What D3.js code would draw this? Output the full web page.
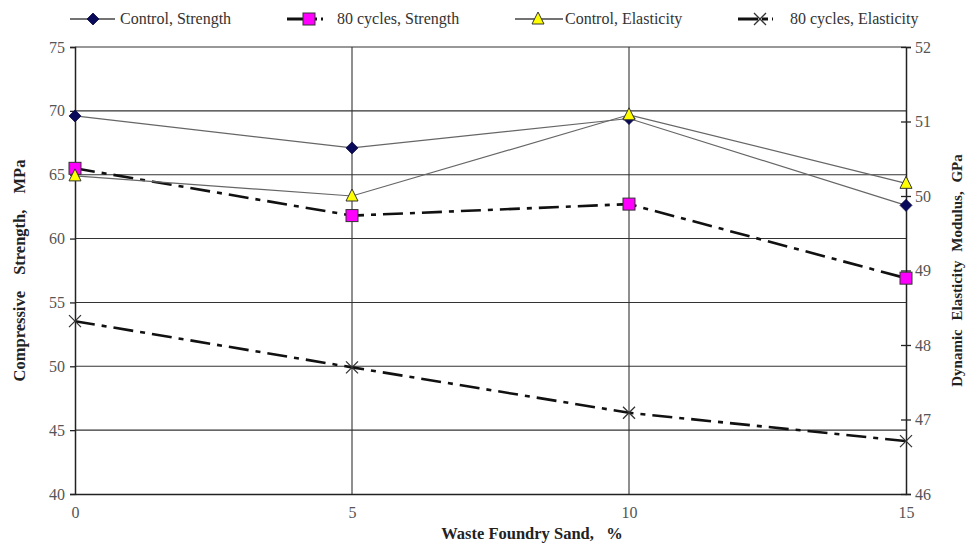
<!DOCTYPE html>
<html><head><meta charset="utf-8">
<script src="https://cdn.jsdelivr.net/npm/d3@7"></script>
<style>
body{margin:0;background:#fff;}
svg text{font-family:"Liberation Serif","Times New Roman",serif;}
</style></head>
<body><svg id="c" width="967" height="544"></svg>
<script>
const xValues = [0, 5, 10, 15];
const controlStrength = [69.6, 67.1, 69.4, 62.6];
const cyclesStrength = [65.5, 61.8, 62.7, 56.9];
const controlElasticity = [50.27, 50.0, 51.09, 50.17];
const cyclesElasticity = [48.32, 47.70, 47.09, 46.71];
const leftTicks = [40, 45, 50, 55, 60, 65, 70, 75];
const rightTicks = [46, 47, 48, 49, 50, 51, 52];
const xTicks = [0, 5, 10, 15];
const seriesNames = ["Control, Strength", "80 cycles, Strength", "Control, Elasticity", "80 cycles, Elasticity"];

const svg = d3.select("#c");
const L = 75, R = 906, T = 47, B = 494;
const x = d3.scaleLinear().domain([0, 15]).range([L, R]);
const yL = d3.scaleLinear().domain([40, 75]).range([B, T]);
const yR = d3.scaleLinear().domain([46, 52]).range([B, T]);

svg.append("g").selectAll("line").data(leftTicks.filter(d => d > 40)).join("line")
  .attr("x1", L).attr("x2", R).attr("y1", d => yL(d)).attr("y2", d => yL(d))
  .attr("stroke", "#333").attr("stroke-width", 1.1);
svg.append("g").selectAll("line").data(xTicks.filter(d => d > 0 && d < 15)).join("line")
  .attr("x1", d => x(d)).attr("x2", d => x(d)).attr("y1", T).attr("y2", B)
  .attr("stroke", "#333").attr("stroke-width", 1.1);

const axL = svg.append("g").attr("transform", `translate(${L},0)`)
  .call(d3.axisLeft(yL).tickValues(leftTicks).tickFormat(d3.format("d")).tickSize(5).tickPadding(5));
const axR = svg.append("g").attr("transform", `translate(${R},0)`)
  .call(d3.axisRight(yR).tickValues(rightTicks).tickFormat(d3.format("d")).tickSize(5).tickPadding(4));
const axB = svg.append("g").attr("transform", `translate(0,${B})`)
  .call(d3.axisBottom(x).tickValues(xTicks).tickFormat(d3.format("d")).tickSize(0).tickPadding(13));
[axL, axR, axB].forEach(a => {
  a.attr("font-family", null);
  a.select(".domain").attr("stroke", "#222").attr("stroke-width", 1.5);
  a.selectAll(".tick line").attr("stroke", "#222").attr("stroke-width", 1.3);
  a.selectAll("text").attr("font-size", 16).attr("fill", "#555");
});
axR.selectAll(".tick line").attr("x1", -5).attr("x2", 5);
axL.selectAll(".tick line").attr("x1", -5).attr("x2", 0);

svg.append("text").attr("transform", `translate(25,${(T+B)/2}) rotate(-90)`)
  .attr("text-anchor", "middle").attr("font-weight", "bold").attr("font-size", 16.5).attr("fill", "#222")
  .attr("word-spacing", 12).text("Compressive Strength, MPa");
svg.append("text").attr("transform", `translate(962,${(T+B)/2}) rotate(-90)`)
  .attr("text-anchor", "middle").attr("font-weight", "bold").attr("font-size", 15).attr("fill", "#222")
  .attr("word-spacing", 5).text("Dynamic Elasticity Modulus, GPa");
svg.append("text").attr("x", 532).attr("y", 539)
  .attr("text-anchor", "middle").attr("font-weight", "bold").attr("font-size", 16.5).attr("fill", "#222")
  .attr("xml:space", "preserve").text("Waste Foundry Sand,   %");

const dashDot = "20,7,5,7";
const series = [
  {name: seriesNames[0], vals: controlStrength, y: yL, stroke: "#666", sw: 1.2, dash: null, marker: "diamond"},
  {name: seriesNames[1], vals: cyclesStrength, y: yL, stroke: "#111", sw: 2.6, dash: dashDot, marker: "square"},
  {name: seriesNames[2], vals: controlElasticity, y: yR, stroke: "#666", sw: 1.2, dash: null, marker: "triangle"},
  {name: seriesNames[3], vals: cyclesElasticity, y: yR, stroke: "#111", sw: 2.6, dash: dashDot, marker: "x"}
];

function drawMarker(g, type, cx, cy) {
  if (type === "diamond") {
    g.append("path").attr("d", `M${cx},${cy-6}L${cx+6},${cy}L${cx},${cy+6}L${cx-6},${cy}Z`)
      .attr("fill", "#0a0a5a").attr("stroke", "#0a0a40").attr("stroke-width", 0.8);
  } else if (type === "square") {
    g.append("rect").attr("x", cx-6).attr("y", cy-6).attr("width", 12).attr("height", 12)
      .attr("fill", "#ff00ff").attr("stroke", "#333").attr("stroke-width", 1);
  } else if (type === "triangle") {
    g.append("path").attr("d", `M${cx},${cy-7}L${cx+6},${cy+5}L${cx-6},${cy+5}Z`)
      .attr("fill", "#ffff00").attr("stroke", "#333").attr("stroke-width", 1);
  } else if (type === "x") {
    g.append("path").attr("d", `M${cx-6},${cy-6}L${cx+6},${cy+6}M${cx-6},${cy+6}L${cx+6},${cy-6}`)
      .attr("stroke", "#333").attr("stroke-width", 1.3);
  }
}

const line = (yScale) => d3.line().x((d, i) => x(xValues[i])).y(d => yScale(d));
series.forEach(s => {
  const g = svg.append("g");
  g.append("path").datum(s.vals).attr("d", line(s.y)).attr("fill", "none")
    .attr("stroke", s.stroke).attr("stroke-width", s.sw).attr("stroke-dasharray", s.dash);
  s.vals.forEach((v, i) => drawMarker(g, s.marker, x(xValues[i]), s.y(v)));
});

const legendPos = [{x1: 70, x2: 115, m: 93, t: 120}, {x1: 287, x2: 323, m: 309, t: 337},
                   {x1: 515, x2: 563, m: 538, t: 565}, {x1: 738, x2: 773, m: 760, t: 790}];
const ly = 19;
series.forEach((s, i) => {
  const p = legendPos[i];
  const g = svg.append("g");
  g.append("line").attr("x1", p.x1).attr("x2", p.x2).attr("y1", ly).attr("y2", ly)
    .attr("stroke", s.sw > 2 ? "#111" : "#444").attr("stroke-width", s.sw > 2 ? 3 : 1.3)
    .attr("stroke-dasharray", s.sw > 2 ? "20,4,6,4" : null);
  drawMarker(g, s.marker, p.m, ly);
  g.append("text").attr("x", p.t).attr("y", ly + 5).attr("font-size", 16).attr("fill", "#333")
    .text(s.name);
});
</script></body></html>
